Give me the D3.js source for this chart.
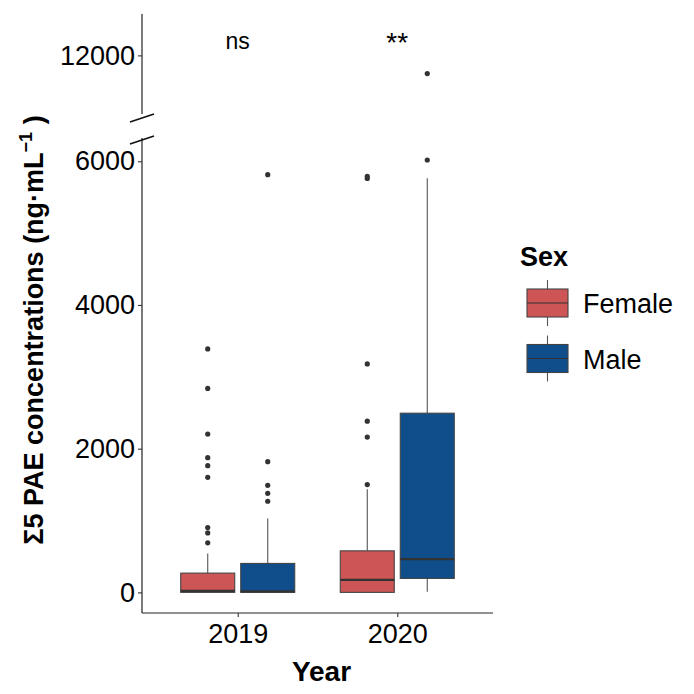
<!DOCTYPE html>
<html>
<head>
<meta charset="utf-8">
<script src="https://cdn.jsdelivr.net/npm/d3@7"></script>
<style>
  body { margin: 0; background: #fff; }
  text { font-family: "Liberation Sans", Arial, sans-serif; }
</style>
</head>
<body>
<script>
// groups in drawing order
var groupYear = ["2019", "2019", "2020", "2020"];
var groupSex = ["Female", "Male", "Female", "Male"];
var whiskerLow = [0, 0, 0, 8];
var q1 = [0, 0, 0, 194];
var median = [20, 15, 175, 462];
var q3 = [268, 403, 578, 2494];
var whiskerHigh = [540, 1028, 1435, 5764];
var outliers = [
  [689, 828, 903, 1601, 1764, 1875, 2203, 2838, 3389],
  [1268, 1379, 1490, 1819, 5814],
  [1500, 2161, 2383, 3180, 5760, 5790],
  [6018, 11750]
];
var years = ["2019", "2020"];
var sexes = ["Female", "Male"];
var sigLabels = ["ns", "**"];
var lowTicks = [0, 2000, 4000, 6000];
var highTicks = [12000];
var colors = { Female: "#CD5555", Male: "#104E8B" };

var W = 694, H = 694;
var svg = d3.select("body").append("svg")
    .attr("width", W)
    .attr("height", H);

var left = 142, right = 493, bottom = 613;

var x = d3.scalePoint().domain(years).range([left, right]).padding(0.6);
var dodge = d3.scaleBand().domain(sexes).range([-60, 60]);
var boxW = dodge.bandwidth() * 0.9;

var yLow = d3.scaleLinear().domain([-287, 6324]).range([bottom, 138]);
var yHigh = d3.scaleLinear().domain([11194, 12569]).range([114, 14]);
function yPos(v) { return v > 9000 ? yHigh(v) : yLow(v); }

// axes
var fmt = d3.format("d");
var gLow = svg.append("g").attr("transform", "translate(" + left + ",0)")
    .call(d3.axisLeft(yLow).tickValues(lowTicks).tickFormat(fmt).tickSize(4).tickPadding(3));
var gHigh = svg.append("g").attr("transform", "translate(" + left + ",0)")
    .call(d3.axisLeft(yHigh).tickValues(highTicks).tickFormat(fmt).tickSize(4).tickPadding(3));
var gx = svg.append("g").attr("transform", "translate(0," + bottom + ")")
    .call(d3.axisBottom(x).tickSize(4).tickPadding(4));
gx.select(".domain").attr("d", "M" + left + ",0H" + right);
gLow.select(".domain").attr("d", "M0," + yLow.range()[1] + "V" + bottom);
gHigh.select(".domain").attr("d", "M0," + yHigh.range()[1] + "V" + yHigh.range()[0]);

[gLow, gHigh, gx].forEach(function (g) {
  g.selectAll(".domain").attr("stroke", "#222").attr("stroke-width", 1.2);
  g.selectAll(".tick line").attr("stroke", "#333").attr("stroke-width", 1.1);
  g.selectAll(".tick text").attr("fill", "#000").style("font-size", "27px")
    .style("font-family", "Liberation Sans, Arial, sans-serif");
});
gx.selectAll(".tick text").attr("dy", "0.81em");

// break marks
svg.append("line").attr("x1", 130).attr("y1", 122).attr("x2", 154).attr("y2", 114)
  .attr("stroke", "#111").attr("stroke-width", 1.6);
svg.append("line").attr("x1", 130).attr("y1", 144).attr("x2", 154).attr("y2", 136)
  .attr("stroke", "#111").attr("stroke-width", 1.6);

var idx = d3.range(groupYear.length);
function cx(i) { return x(groupYear[i]) + dodge(groupSex[i]) + dodge.bandwidth() / 2; }

var boxes = svg.append("g").selectAll("g").data(idx).enter().append("g");
boxes.append("line")
  .attr("x1", cx).attr("x2", cx)
  .attr("y1", function (i) { return yPos(q3[i]); })
  .attr("y2", function (i) { return yPos(whiskerHigh[i]); })
  .attr("stroke", "#555").attr("stroke-width", 1.1);
boxes.append("line")
  .attr("x1", cx).attr("x2", cx)
  .attr("y1", function (i) { return yPos(q1[i]); })
  .attr("y2", function (i) { return yPos(whiskerLow[i]); })
  .attr("stroke", "#555").attr("stroke-width", 1.1);
boxes.append("rect")
  .attr("x", function (i) { return cx(i) - boxW / 2; })
  .attr("width", boxW)
  .attr("y", function (i) { return yPos(q3[i]); })
  .attr("height", function (i) { return yPos(q1[i]) - yPos(q3[i]); })
  .attr("fill", function (i) { return colors[groupSex[i]]; })
  .attr("stroke", "#444").attr("stroke-width", 1.1);
boxes.append("line")
  .attr("x1", function (i) { return cx(i) - boxW / 2; })
  .attr("x2", function (i) { return cx(i) + boxW / 2; })
  .attr("y1", function (i) { return yPos(median[i]); })
  .attr("y2", function (i) { return yPos(median[i]); })
  .attr("stroke", "#333").attr("stroke-width", 2.2);
boxes.selectAll("circle")
  .data(function (i) { return outliers[i].map(function (v) { return { i: i, v: v }; }); })
  .enter().append("circle")
  .attr("cx", function (d) { return cx(d.i); })
  .attr("cy", function (d) { return yPos(d.v); })
  .attr("r", 2.6)
  .attr("fill", "#333");

// significance labels
svg.append("g").selectAll("text").data(years).enter().append("text")
  .attr("x", function (d) { return x(d); })
  .attr("y", function (d, i) { return i === 0 ? 49 : 52; })
  .attr("text-anchor", "middle")
  .style("font-size", function (d, i) { return i === 0 ? "23px" : "28px"; })
  .text(function (d, i) { return sigLabels[i]; });

// axis titles
svg.append("text")
  .attr("x", (left + right) / 2 + 4).attr("y", 681)
  .attr("text-anchor", "middle")
  .style("font-size", "28px").style("font-weight", "bold")
  .text("Year");

var yt = svg.append("text")
  .attr("transform", "translate(43,330) rotate(-90)")
  .attr("text-anchor", "middle")
  .style("font-size", "27px").style("font-weight", "bold");
yt.append("tspan").text("Σ5 PAE concentrations (ng·mL");
yt.append("tspan").attr("dy", -11).style("font-size", "18px").text("−1");
yt.append("tspan").attr("dy", 11).text(" )");

// legend
var lg = svg.append("g");
lg.append("text").attr("x", 520).attr("y", 266)
  .style("font-size", "27px").style("font-weight", "bold").text("Sex");
var keys = lg.selectAll("g").data(sexes).enter().append("g")
  .attr("transform", function (d, i) { return "translate(527," + (289 + i * 55.5) + ")"; });
keys.append("line").attr("x1", 20.5).attr("x2", 20.5).attr("y1", -9).attr("y2", 37)
  .attr("stroke", "#555").attr("stroke-width", 1.1);
keys.append("rect").attr("width", 41).attr("height", 28)
  .attr("fill", function (d) { return colors[d]; })
  .attr("stroke", "#444").attr("stroke-width", 1.1);
keys.append("line").attr("x1", 0).attr("x2", 41).attr("y1", 14).attr("y2", 14)
  .attr("stroke", "#333").attr("stroke-width", 1.1);
keys.append("text").attr("x", 56).attr("y", 24)
  .style("font-size", "27px").text(function (d) { return d; });
</script>
</body>
</html>
